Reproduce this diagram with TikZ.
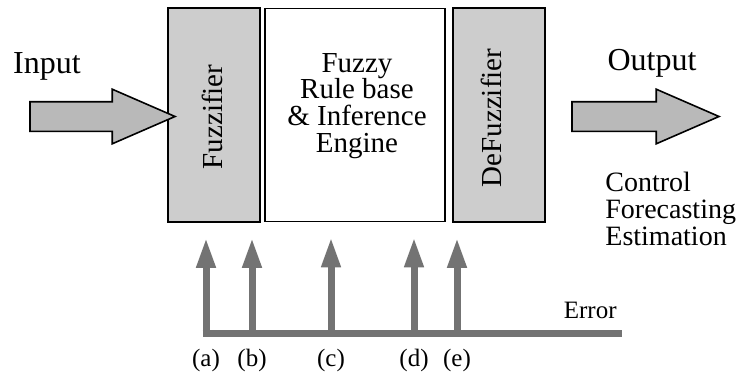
\documentclass[tikz,border=0pt]{standalone}
\usepackage{fontspec}
\setmainfont{Liberation Serif}
\usetikzlibrary{shapes.arrows,arrows.meta,positioning,calc}
\definecolor{stageGray}{RGB}{205,205,205}
\definecolor{flowGray}{RGB}{185,185,185}
\definecolor{errGray}{RGB}{115,115,115}
\tikzset{
    stage/.style={rectangle, draw=black, line width=0.8pt, fill=stageGray,
        minimum width=46pt, minimum height=107pt, inner sep=0pt},
    bigarrow/.style={single arrow, draw=black, line width=0.8pt, fill=flowGray,
        inner xsep=0pt, inner ysep=7pt, single arrow head extend=6.25pt,
        single arrow tip angle=47},
    errarr/.style={-{Triangle[length=15pt,width=9pt]}, line width=3.5pt, draw=errGray},
    errline/.style={line width=3.5pt, draw=errGray},
    lbl/.style={font=\fontsize{14.5}{13.3}\selectfont, inner sep=0pt},
    tag/.style={font=\fontsize{12.5}{14}\selectfont, inner sep=0pt},
}

\begin{document}
\begin{tikzpicture}[x=0.5pt, y=-0.5pt]
\useasboundingbox (0,0) rectangle (745,376);

% Processing stages
\node[stage] (fuzz) at (214,115) {};
\node[stage, fill=white, minimum width=90pt, minimum height=106.5pt, right=1.7pt of fuzz] (rule) {};
\node[stage, right=3.2pt of rule] (defuzz) {};

% Stage texts
\node[lbl, rotate=90] (fuzztxt) at ([xshift=-1pt,yshift=-1pt]fuzz.center) {Fuzzifier};
\node[lbl, align=center, anchor=north] (ruletxt) at (357,53)
    {Fuzzy\\Rule base\\\& Inference\\Engine};
\node[lbl, rotate=90] (defuzztxt) at ([xshift=-4pt,yshift=-1.5pt]defuzz.center) {DeFuzzifier};

% Input and output
\node[bigarrow, minimum height=72.5pt] (in) at (85.5,116.5) {};
\node[bigarrow, minimum height=73.5pt] (out) at (628.5,116.5) {};
\node[lbl, anchor=base, font=\fontsize{16}{18}\selectfont] (intxt) at (47,73) {Input};
\node[lbl, anchor=base, font=\fontsize{16}{18}\selectfont] (outtxt) at (652,70) {Output};
\node[lbl, align=left, anchor=north west, font=\fontsize{14}{13.4}\selectfont] (apps) at (605,172)
    {Control\\Forecasting\\Estimation};

% Error feedback
\coordinate (busL) at (202.5,333);
\coordinate (busR) at (622,333);
\node[tag] (la) at (206,360) {(a)};
\node[tag] (lb) at (252,360) {(b)};
\node[tag] (lc) at (331,360) {(c)};
\node[tag] (ld) at (414,360) {(d)};
\node[tag] (le) at (457,360) {(e)};
\node[tag, anchor=base east] (err) at (617,318) {Error};

\draw[errline] (busL) -- (busR);
\draw[errarr] (la |- busL) -- ($(la |- fuzz.south)+(0,15)$);
\draw[errarr] (lb |- busL) -- ($(lb |- fuzz.south)+(0,15)$);
\draw[errarr] (lc |- busL) -- ($(lc |- rule.south)+(0,15)$);
\draw[errarr] (ld |- busL) -- ($(ld |- rule.south)+(0,15)$);
\draw[errarr] (le |- busL) -- ($(le |- defuzz.south)+(0,15)$);

\end{tikzpicture}
\end{document}
